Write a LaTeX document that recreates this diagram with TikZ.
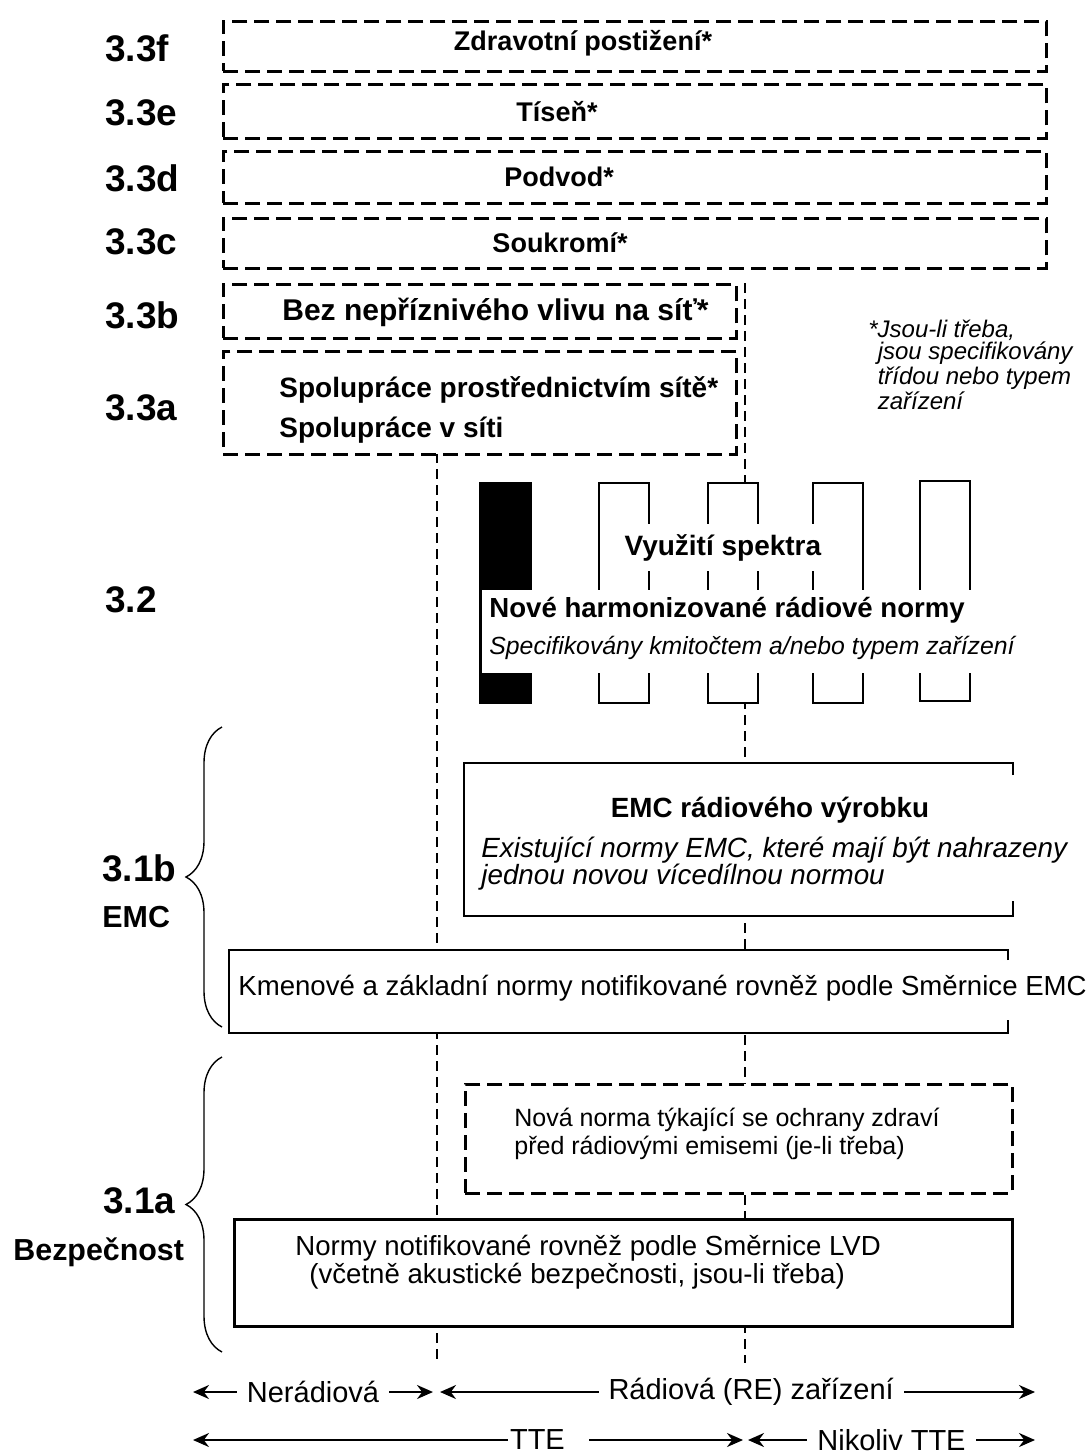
\documentclass[tikz,border=0pt]{standalone}
\usepackage{fontspec}
\setmainfont{Liberation Sans}
\usetikzlibrary{positioning,arrows.meta,decorations.pathreplacing}

\begin{document}
\begin{tikzpicture}[x=0.5pt, y=-0.5pt,
    dbox/.style={draw, line width=1.4pt, dash pattern=on 7.5pt off 3.5pt, fill=white, inner sep=0pt, anchor=north west},
    sbox/.style={fill=white, inner sep=0pt, anchor=north west},
    bar/.style={draw, line width=1.2pt, fill=white, inner sep=0pt, anchor=north west, minimum width=25pt, minimum height=110pt},
    divider/.style={line width=0.7pt, dash pattern=on 5pt off 3pt},
    rim/.style={line width=1.2pt},
    txt/.style={inner sep=0pt},
    num/.style={txt, anchor=west, font=\fontsize{18.5}{20}\selectfont\bfseries},
    sub/.style={txt, anchor=west, font=\fontsize{15.2}{17}\selectfont\bfseries},
    toplbl/.style={txt, font=\fontsize{13.5}{16}\selectfont\bfseries},
    netlbl/.style={txt, anchor=west, font=\fontsize{14}{16}\selectfont\bfseries},
    span/.style={{Stealth[length=8pt,width=7pt]}-{Stealth[length=8pt,width=7pt]}, line width=1pt},
    tag/.style={fill=white, inner xsep=5pt, inner ysep=0pt, font=\fontsize{14.5}{17}\selectfont},
    curly/.style={decorate, decoration={brace, amplitude=18pt}, line width=0.7pt}
  ]
  \useasboundingbox (0,0) rectangle (1087,1455);

  % dividers: non-radio | radio, TTE | not TTE
  \coordinate (nr-top) at (437,453);
  \coordinate (nr-bot) at (437,1363);
  \coordinate (re-top) at (745,283);
  \coordinate (re-bot) at (745,1363);
  \draw[divider] (nr-top) -- (nr-bot);
  \draw[divider] (re-top) -- (re-bot);

  % 3.3 requirements
  \node[dbox, minimum width=411.5pt, minimum height=25pt] (health) at (222,20) {};
  \node[dbox, minimum width=411.5pt, minimum height=27pt] (distress) at (222,83) {};
  \node[dbox, minimum width=411.5pt, minimum height=26pt] (fraud) at (222,150) {};
  \node[dbox, minimum width=411.5pt, minimum height=25pt] (privacy) at (222,217) {};
  \node[dbox, minimum width=256.5pt, minimum height=27pt] (noharm) at (222,283) {};
  \node[dbox, minimum width=256.5pt, minimum height=51.5pt] (interwork) at (222,350) {};

  \node[toplbl] (health-t) at (583,43) {Zdravotní postižení*};
  \node[toplbl] (distress-t) at (557,112) {Tíseň*};
  \node[toplbl] (fraud-t) at (559,177) {Podvod*};
  \node[toplbl] (privacy-t) at (560,243) {Soukromí*};
  \node[netlbl, font=\fontsize{15}{17}\selectfont\bfseries] (noharm-t) at (282,312) {Bez nepříznivého vlivu na síť*};
  \node[netlbl] (interwork-a) at (279,390) {Spolupráce prostřednictvím sítě*};
  \node[netlbl] (interwork-b) at (279,430) {Spolupráce v síti};

  \node[txt, anchor=west, align=left, font=\fontsize{12}{11}\selectfont\itshape] (note) at (868,365)
    {*Jsou-li třeba,\\\hphantom{*}jsou specifikovány\\\hphantom{*}třídou nebo typem\\\hphantom{*}zařízení};

  % 3.2 spectrum
  \node[bar, fill=black] (band0) at (480,482) {};
  \node[bar] (band1) at (598,482) {};
  \node[bar] (band2) at (707,482) {};
  \node[bar] (band3) at (812,482) {};
  \node[bar] (band4) at (919,480) {};
  \node[sbox, minimum width=107.5pt, minimum height=23.5pt, font=\fontsize{14}{16}\selectfont\bfseries] (spectrum) at (615,524) {Využití spektra};
  \node[sbox, minimum width=269pt, minimum height=41.5pt] (radiostd) at (482,590) {};
  \draw[rim] (band0.north west) -- (band0.south west);
  \node[netlbl, font=\fontsize{13.8}{16}\selectfont\bfseries] (radiostd-t) at (489,610) {Nové harmonizované rádiové normy};
  \node[txt, anchor=west, font=\fontsize{12.4}{15}\selectfont\itshape] (radiostd-s) at (489,648) {Specifikovány kmitočtem a/nebo typem zařízení};

  % 3.1b EMC
  \node[sbox, minimum width=274pt, minimum height=76pt] (emcradio) at (464,763) {};
  \draw[rim] (emcradio.north east) ++(0,12) -- (emcradio.north east) -- (emcradio.north west)
    -- (emcradio.south west) -- (emcradio.south east) -- ++(0,-15);
  \node[txt, font=\fontsize{13.9}{16}\selectfont\bfseries] (emcradio-t) at (770,810) {EMC rádiového výrobku};
  \node[txt, anchor=west, align=left, font=\fontsize{13.9}{13.5}\selectfont\itshape] (emcradio-s) at (481,863.5)
    {Existující normy EMC, které mají být nahrazeny\\jednou novou vícedílnou normou};

  \node[sbox, minimum width=389pt, minimum height=41pt] (generic) at (229,950) {};
  \draw[rim] (generic.north east) ++(0,10) -- (generic.north east) -- (generic.north west)
    -- (generic.south west) -- (generic.south east) -- ++(0,-13);
  \node[txt, anchor=west, font=\fontsize{13.8}{16}\selectfont] (generic-t) at (238,988) {Kmenové a základní normy notifikované rovněž podle Směrnice EMC};

  % 3.1a safety
  \node[dbox, minimum width=273.5pt, minimum height=54.5pt] (rfhealth) at (464,1083) {};
  \node[txt, anchor=west, align=left, font=\fontsize{12.5}{14}\selectfont] (rfhealth-t) at (514,1134)
    {Nová norma týkající se ochrany zdraví\\před rádiovými emisemi (je-li třeba)};
  \node[sbox, draw, line width=1.3pt, minimum width=389pt, minimum height=53.5pt] (lvd) at (233,1218) {};
  \node[txt, anchor=west, align=left, font=\fontsize{13.8}{12.5}\selectfont] (lvd-t) at (295,1262.5)
    {Normy notifikované rovněž podle Směrnice LVD\\\hspace*{7pt}(včetně akustické bezpečnosti, jsou-li třeba)};

  % section numbers
  \node[num] (s33f) at (105,48) {3.3f};
  \node[num] (s33e) at (105,113) {3.3e};
  \node[num] (s33d) at (105,178) {3.3d};
  \node[num] (s33c) at (105,242) {3.3c};
  \node[num] (s33b) at (105,315) {3.3b};
  \node[num] (s33a) at (105,408) {3.3a};
  \node[num] (s32) at (105,600) {3.2};
  \node[num] (s31b) at (102,868) {3.1b};
  \node[sub, below=12pt of s31b.south west, anchor=north west] (emc) {EMC};
  \node[num] (s31a) at (103,1201) {3.1a};
  \node[sub] (safety) at (13,1252) {Bezpečnost};

  \draw[curly] (222,1027) -- (222,727);
  \draw[curly] (222,1352) -- (222,1057);

  % equipment ranges
  \coordinate (nr-l) at (193,1392);
  \coordinate (nr-r) at (433,1392);
  \coordinate (re-l) at (440,1392);
  \coordinate (re-r) at (1035,1392);
  \coordinate (tte-l) at (193,1440);
  \coordinate (tte-r) at (743,1440);
  \coordinate (ntte-l) at (748,1440);
  \coordinate (ntte-r) at (1035,1440);
  \draw[span] (nr-l) -- node[tag] (nr-t) {Nerádiová} (nr-r);
  \draw[span] (re-l) -- node[tag, pos=0.523] (re-t) {Rádiová (RE) zařízení} (re-r);
  \draw[span] (tte-l) -- node[tag, pos=0.571, anchor=west, inner xsep=1pt] (tte-t) {TTE\kern11pt} (tte-r);
  \draw[span] (ntte-l) -- node[tag] (ntte-t) {Nikoliv TTE} (ntte-r);
\end{tikzpicture}
\end{document}
